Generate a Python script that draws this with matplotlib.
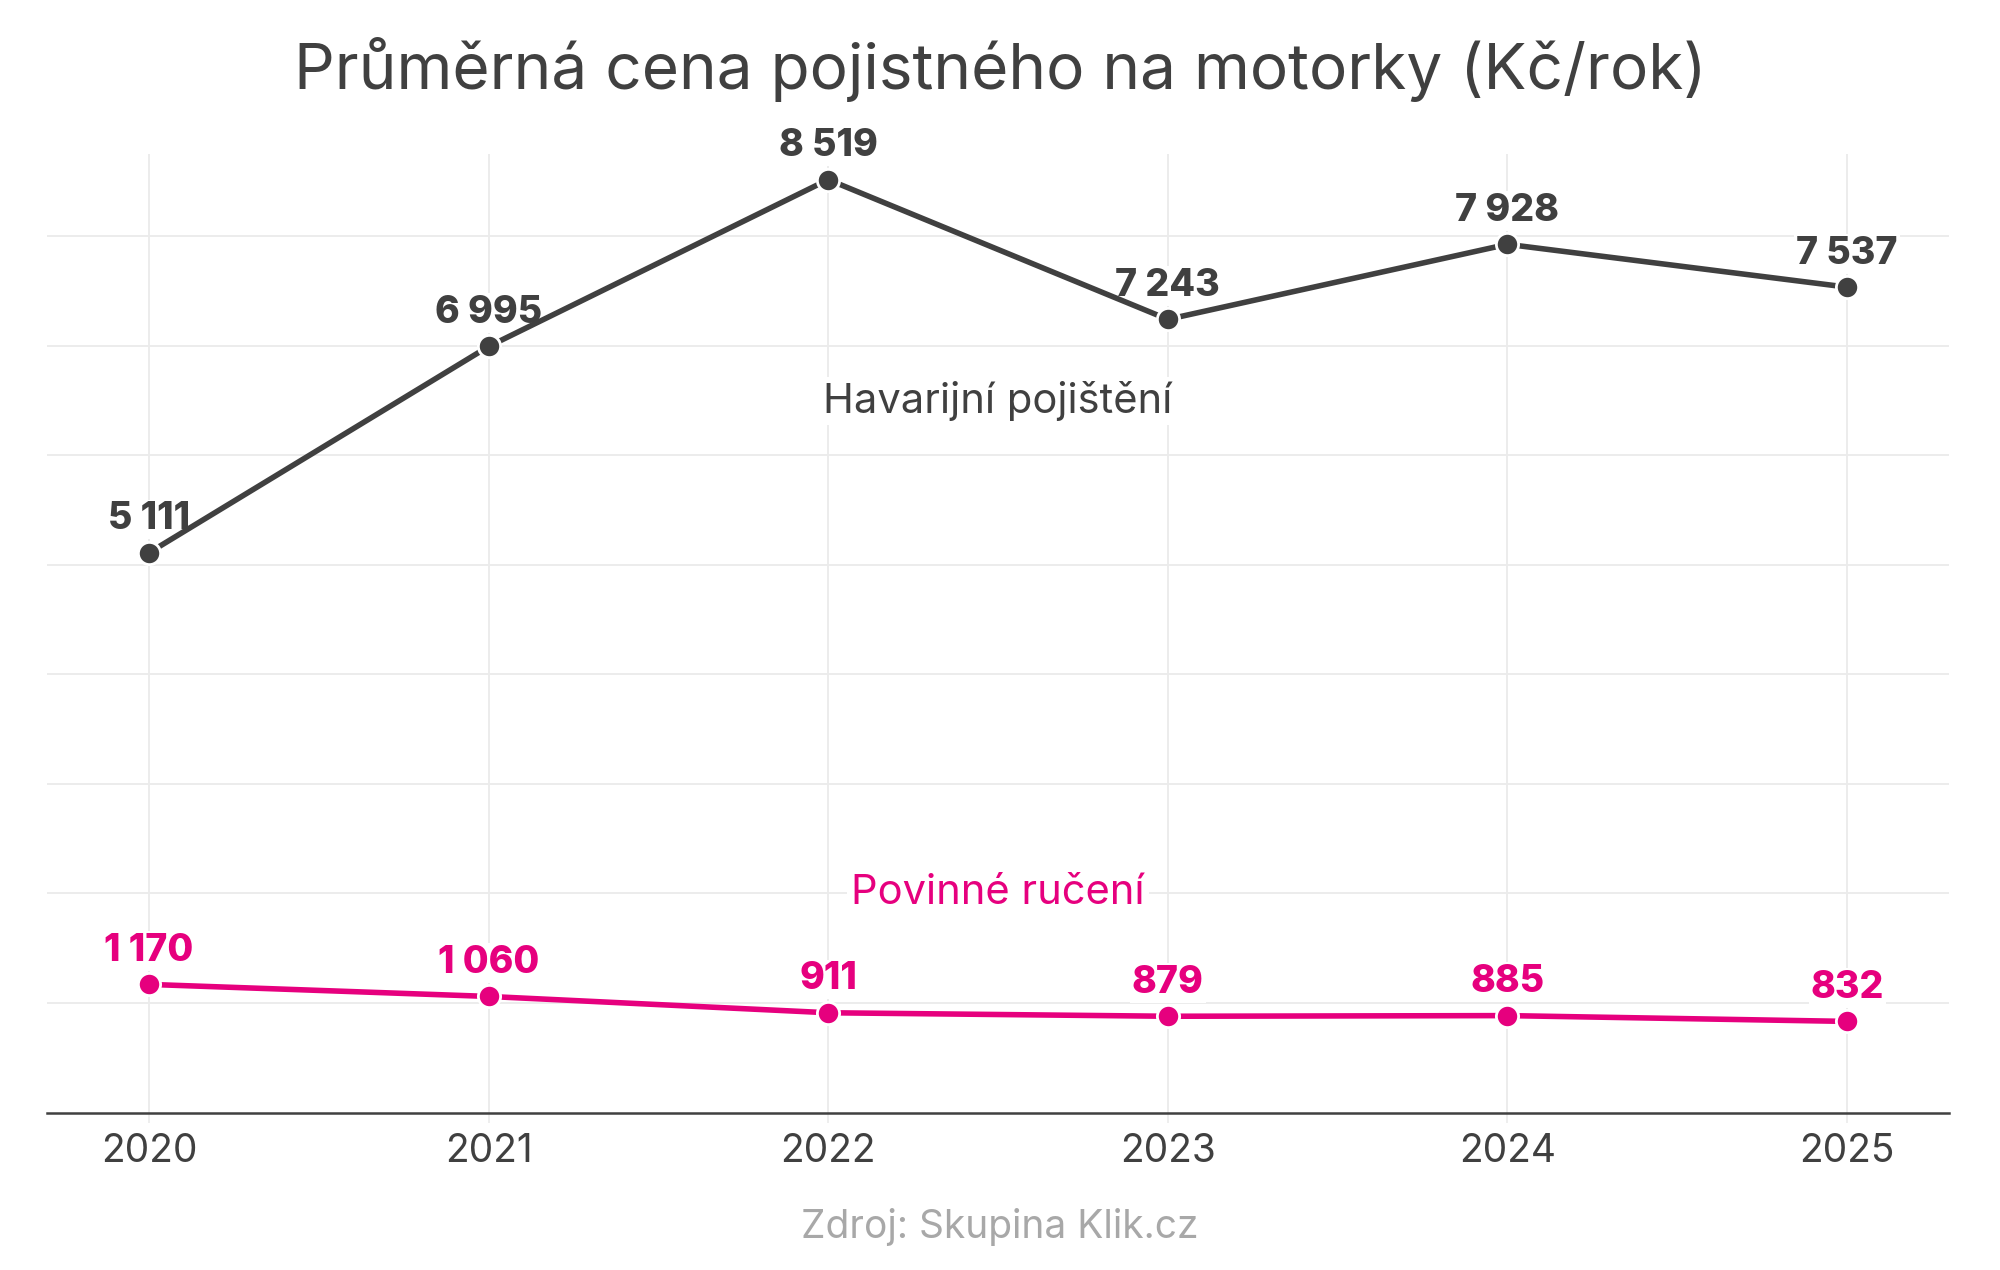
import matplotlib
matplotlib.use('Agg')
import matplotlib.pyplot as plt

years = [2020, 2021, 2022, 2023, 2024, 2025]
havarijni = [5111, 6995, 8519, 7243, 7928, 7537]
povinne = [1170, 1060, 911, 879, 885, 832]

dark = '#404040'
pink = '#e6007e'
grid_c = '#ebebeb'

plt.rcParams['font.family'] = ['Inter', 'DejaVu Sans']


def fmt(v):
    return f'{v:,}'.replace(',', ' ')


fig = plt.figure(figsize=(20, 12.7), dpi=100)
ax = fig.add_axes([0.0235, 0.124, 0.951, 0.7545])

for vals, col in [(havarijni, dark), (povinne, pink)]:
    ax.plot(years, vals, color=col, lw=4, marker='o', ms=16,
            mfc=col, mec='white', mew=2, zorder=3, solid_capstyle='round')
    for x, v in zip(years, vals):
        ax.annotate(fmt(v), (x, v), xytext=(0, 24), textcoords='offset points',
                    ha='center', va='center', fontsize=27, fontweight=800,
                    color=col, zorder=2.5,
                    bbox=dict(boxstyle='square,pad=0.05', fc='white', ec='none'))

ax.text(2022.5, 6500, 'Havarijní pojištění', ha='center', va='center',
        fontsize=30, color=dark,
        bbox=dict(boxstyle='square,pad=0.1', fc='white', ec='none'), zorder=2)
ax.text(2022.5, 2000, 'Povinné ručení', ha='center', va='center',
        fontsize=30, color=pink,
        bbox=dict(boxstyle='square,pad=0.1', fc='white', ec='none'), zorder=2)

ax.set_xlim(2019.7, 2025.3)
ax.set_ylim(0, 8750)
ax.set_xticks(years)
ax.set_xticklabels([str(y) for y in years], fontsize=28, color=dark)
ax.set_yticks(range(1000, 9000, 1000))
ax.set_yticklabels([])
ax.tick_params(axis='y', length=0)
ax.tick_params(axis='x', length=7, width=1.2, color=grid_c, pad=8)
ax.grid(True, color=grid_c, lw=1.3, zorder=0)
ax.set_axisbelow(True)
for s in ['top', 'right', 'left']:
    ax.spines[s].set_visible(False)
ax.spines['bottom'].set_color(dark)
ax.spines['bottom'].set_linewidth(1.8)

fig.text(0.5, 0.945, 'Průměrná cena pojistného na motorky (Kč/rok)',
         ha='center', va='center', fontsize=46, color=dark)
fig.text(0.5, 0.034, 'Zdroj: Skupina Klik.cz', ha='center', va='center',
         fontsize=28, color='#a8a8a8')

fig.savefig('out.png', dpi=100, facecolor='white')
